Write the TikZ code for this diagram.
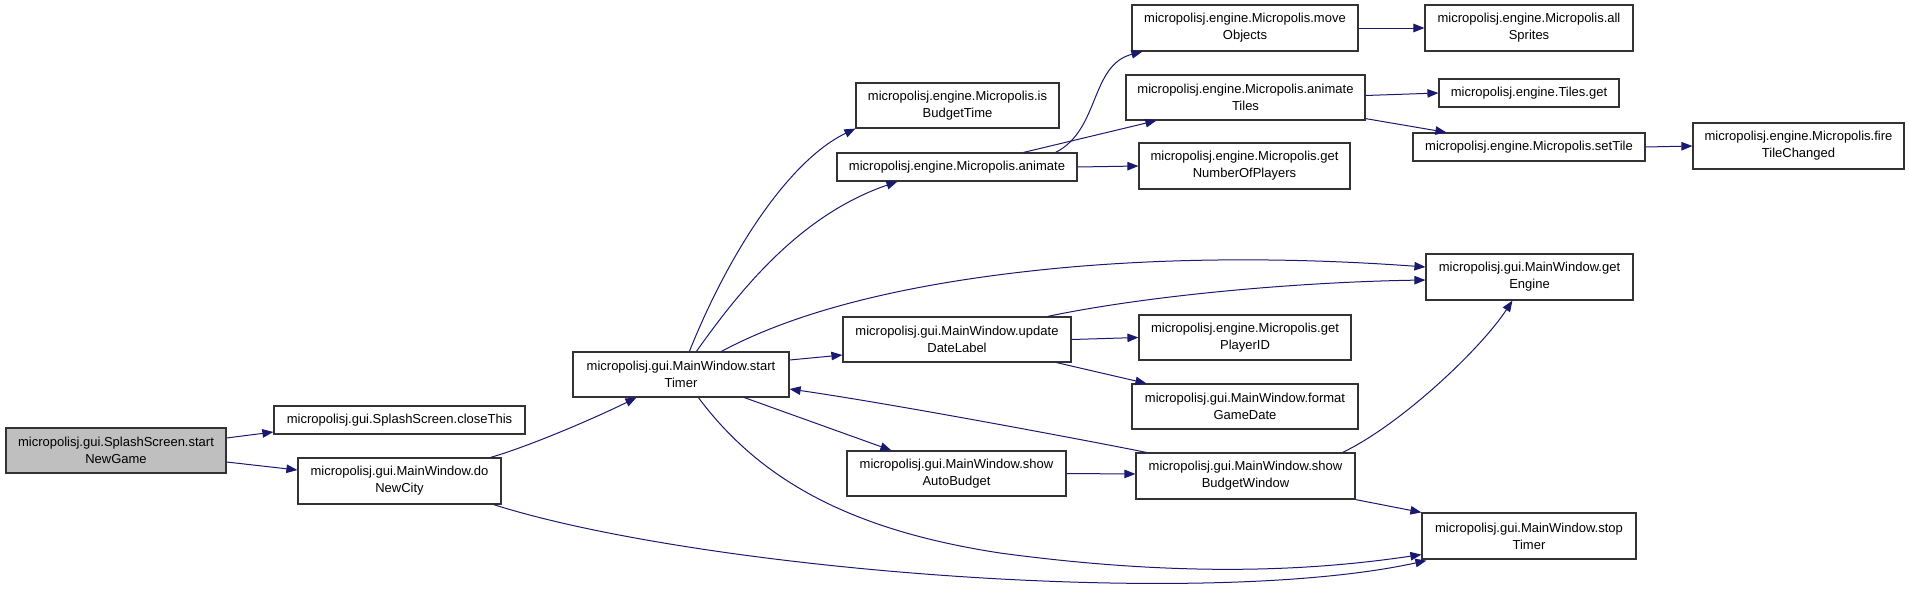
\documentclass[tikz,border=0pt]{standalone}
\usepackage{fontspec}
\setmainfont{Liberation Sans}
\usetikzlibrary{arrows.meta}
\definecolor{edgeblue}{HTML}{191970}
\definecolor{boxline}{HTML}{333333}
\begin{document}
\begin{tikzpicture}[x=1pt,y=-1pt,
  box/.style={draw=boxline, line width=1.2pt, fill=white, inner sep=0pt, align=center,
    font=\fontsize{13}{17}\selectfont},
  rootbox/.style={box, fill=black!25},
  edge/.style={draw=edgeblue, line width=1pt, -{Triangle[length=11pt,width=8.5pt]}, edgeblue}]
\useasboundingbox (0,0) rectangle (1909,589);
% nodes
\node[rootbox, minimum width=220pt, minimum height=45pt] (A) at (116,450.5) {micropolisj.gui.SplashScreen.start\\NewGame};
\node[box, minimum width=251pt, minimum height=28pt] (B) at (399.5,420) {micropolisj.gui.SplashScreen.closeThis};
\node[box, minimum width=203pt, minimum height=46pt] (C) at (399.5,481) {micropolisj.gui.MainWindow.do\\NewCity};
\node[box, minimum width=216pt, minimum height=45pt] (D) at (681,374.5) {micropolisj.gui.MainWindow.start\\Timer};
\node[box, minimum width=203pt, minimum height=45pt] (E) at (957.5,105.5) {micropolisj.engine.Micropolis.is\\BudgetTime};
\node[box, minimum width=240pt, minimum height=28pt] (F) at (957,167) {micropolisj.engine.Micropolis.animate};
\node[box, minimum width=228pt, minimum height=45pt] (G) at (957,339.5) {micropolisj.gui.MainWindow.update\\DateLabel};
\node[box, minimum width=219pt, minimum height=45pt] (H) at (956.5,473.5) {micropolisj.gui.MainWindow.show\\AutoBudget};
\node[box, minimum width=226pt, minimum height=46pt] (I) at (1245,28) {micropolisj.engine.Micropolis.move\\Objects};
\node[box, minimum width=239pt, minimum height=45pt] (J) at (1245.5,97.5) {micropolisj.engine.Micropolis.animate\\Tiles};
\node[box, minimum width=211pt, minimum height=46pt] (K) at (1244.5,166) {micropolisj.engine.Micropolis.get\\NumberOfPlayers};
\node[box, minimum width=212pt, minimum height=45pt] (L) at (1245,337.5) {micropolisj.engine.Micropolis.get\\PlayerID};
\node[box, minimum width=226pt, minimum height=45pt] (M) at (1245,406.5) {micropolisj.gui.MainWindow.format\\GameDate};
\node[box, minimum width=219pt, minimum height=46pt] (N) at (1245.5,476) {micropolisj.gui.MainWindow.show\\BudgetWindow};
\node[box, minimum width=208pt, minimum height=46pt] (O) at (1529,28) {micropolisj.engine.Micropolis.all\\Sprites};
\node[box, minimum width=180pt, minimum height=28pt] (P) at (1529,93) {micropolisj.engine.Tiles.get};
\node[box, minimum width=232pt, minimum height=28pt] (Q) at (1529,147) {micropolisj.engine.Micropolis.setTile};
\node[box, minimum width=207pt, minimum height=46pt] (R) at (1529.5,277) {micropolisj.gui.MainWindow.get\\Engine};
\node[box, minimum width=214pt, minimum height=46pt] (S) at (1529,536) {micropolisj.gui.MainWindow.stop\\Timer};
\node[box, minimum width=211pt, minimum height=46pt] (T) at (1798.5,146) {micropolisj.engine.Micropolis.fire\\TileChanged};
% edges
\draw[edge] ([yshift=12.5pt]A.east) -- ([yshift=-12pt]B.west);
\draw[edge] ([yshift=-11.5pt]A.east) -- ([yshift=11pt]C.west);
\draw[edge] ([xshift=-11pt]C.north east) .. controls (530,446) and (595,418) .. ([xshift=64pt]D.south west);
\draw[edge] ([xshift=-8pt]C.south east) .. controls (700,570) and (1200,610) .. ([xshift=5pt,yshift=-1pt]S.south west);
\draw[edge] ([xshift=117pt]D.north west) .. controls (730,250) and (790,160) .. (E.south west);
\draw[edge] ([xshift=124pt]D.north west) .. controls (740,290) and (800,215) .. ([xshift=61pt]F.south west);
\draw[edge] ([xshift=149pt]D.north west) .. controls (780,320) and (880,285) .. (1060,268) .. controls (1200,255) and (1330,260) .. ([yshift=10pt]R.west);
\draw[edge] ([yshift=14.5pt]D.east) -- ([yshift=-15.5pt]G.west);
\draw[edge] ([xshift=172pt]D.south west) -- ([xshift=45pt]H.north west);
\draw[edge] ([xshift=126pt]D.south west) .. controls (760,480) and (850,530) .. (1000,553) .. controls (1200,580) and (1330,568) .. ([yshift=5pt]S.south west);
\draw[edge] ([xshift=11pt]N.north west) .. controls (1100,443) and (900,405) .. ([yshift=-14.5pt]D.east);
\draw[edge] ([xshift=-24pt]G.north east) .. controls (1150,295) and (1300,282) .. ([yshift=-3pt]R.west);
\draw[edge] (G.east) -- (L.west);
\draw[edge] ([xshift=-15pt]G.south east) -- ([xshift=15pt]M.north west);
\draw[edge] (H.east) -- ([yshift=2pt]N.west);
\draw[edge] ([xshift=-13pt]N.north east) .. controls (1400,425) and (1480,350) .. ([xshift=87pt]R.south west);
\draw[edge] (N.south east) -- (S.north west);
\draw[edge] ([xshift=-22pt]F.north east) .. controls (1100,130) and (1090,65) .. ([xshift=11pt]I.south west);
\draw[edge] ([xshift=-54pt]F.north east) -- ([xshift=31pt]J.south west);
\draw[edge] (F.east) -- (K.west);
\draw[edge] (I.east) -- (O.west);
\draw[edge] ([yshift=2pt]J.east) -- (P.west);
\draw[edge] ([yshift=2pt]J.south east) -- ([xshift=34pt]Q.north west);
\draw[edge] (Q.east) -- (T.west);
\end{tikzpicture}
\end{document}
